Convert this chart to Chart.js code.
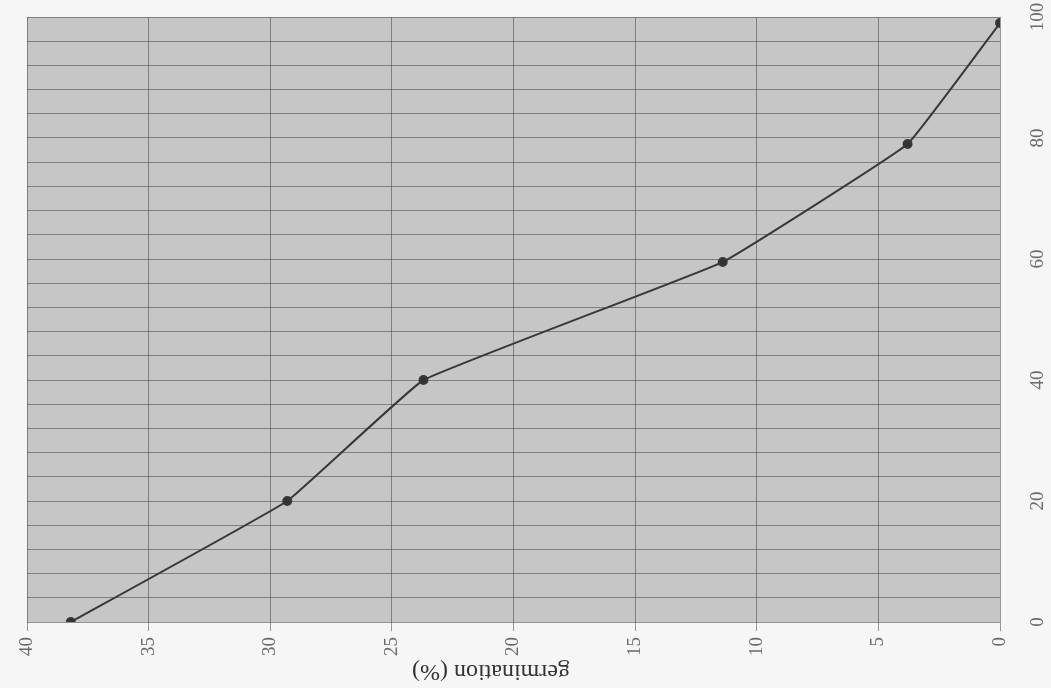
<!DOCTYPE html>
<html>
<head>
<meta charset="utf-8">
<script src="https://cdn.jsdelivr.net/npm/chart.js@4"></script>
<style>
  html, body { margin: 0; padding: 0; background: #f6f6f6; }
  #wrap { position: relative; width: 1051px; height: 688px; }
</style>
</head>
<body>
<div id="wrap"><canvas id="germ-chart" width="1051" height="688"></canvas></div>
<script>
const germination = [38.2, 29.3, 23.7, 11.4, 3.8, 0];
const cumulative = [0, 20, 40, 59.5, 79, 99];
const xTicks = [0, 5, 10, 15, 20, 25, 30, 35, 40];
const yGridTicks = [0, 4, 8, 12, 16, 20, 24, 28, 32, 36, 40, 44, 48, 52, 56, 60, 64, 68, 72, 76, 80, 84, 88, 92, 96, 100];
const yLabelTicks = [0, 20, 40, 60, 80, 100];
const xTitle = "germination (%)";

const points = germination.map((g, i) => ({ x: g, y: cumulative[i] }));

const serif = "'Liberation Serif', 'DejaVu Serif', serif";

// gray plot area like the scanned paper
const plotBg = {
  id: "plotBg",
  beforeDraw(chart) {
    const { ctx, chartArea: a } = chart;
    ctx.save();
    ctx.fillStyle = "#c6c6c6";
    ctx.fillRect(a.left, a.top, a.right - a.left, a.bottom - a.top);
    ctx.restore();
  },
};

// axis title is printed upside down in the scan
const flippedTitle = {
  id: "flippedTitle",
  afterDraw(chart) {
    const { ctx } = chart;
    ctx.save();
    ctx.translate(491, 671);
    ctx.rotate(Math.PI);
    ctx.font = "24px " + serif;
    ctx.fillStyle = "#333";
    ctx.textAlign = "center";
    ctx.textBaseline = "middle";
    ctx.fillText(xTitle, 0, 0);
    ctx.restore();
  },
};

new Chart(document.getElementById("germ-chart"), {
  type: "line",
  data: {
    datasets: [
      {
        data: points,
        borderColor: "#383838",
        backgroundColor: "#333",
        borderWidth: 2,
        pointRadius: 4,
        pointHoverRadius: 4,
        tension: 0.08,
        fill: false,
      },
    ],
  },
  options: {
    responsive: false,
    animation: false,
    layout: { padding: { left: 27, top: 17, right: 0, bottom: 0 } },
    plugins: { legend: { display: false }, tooltip: { enabled: false } },
    scales: {
      x: {
        type: "linear",
        position: "bottom",
        reverse: true,
        min: 0,
        max: 40,
        afterBuildTicks: (s) => { s.ticks = xTicks.map((v) => ({ value: v })); },
        afterFit: (s) => { s.height = 66; s.paddingLeft = 0; s.paddingRight = 0; },
        ticks: {
          minRotation: 90,
          maxRotation: 90,
          autoSkip: false,
          padding: 6,
          color: "#6a6a6a",
          font: { family: serif, size: 19 },
        },
        grid: { color: "rgba(70,70,70,0.55)", lineWidth: 1, drawTicks: true, tickLength: 9 },
        border: { display: false },
      },
      y: {
        type: "linear",
        position: "right",
        min: 0,
        max: 100,
        afterBuildTicks: (s) => { s.ticks = yGridTicks.map((v) => ({ value: v })); },
        afterFit: (s) => { s.width = 51; s.paddingTop = 0; s.paddingBottom = 0; },
        ticks: {
          minRotation: 90,
          maxRotation: 90,
          autoSkip: false,
          crossAlign: "center",
          padding: 24,
          color: "#6a6a6a",
          font: { family: serif, size: 19 },
          callback: (v) => (yLabelTicks.includes(v) ? v : ""),
        },
        grid: { color: "rgba(70,70,70,0.55)", lineWidth: 1, drawTicks: false },
        border: { display: false },
      },
    },
  },
  plugins: [plotBg, flippedTitle],
});
</script>
</body>
</html>
